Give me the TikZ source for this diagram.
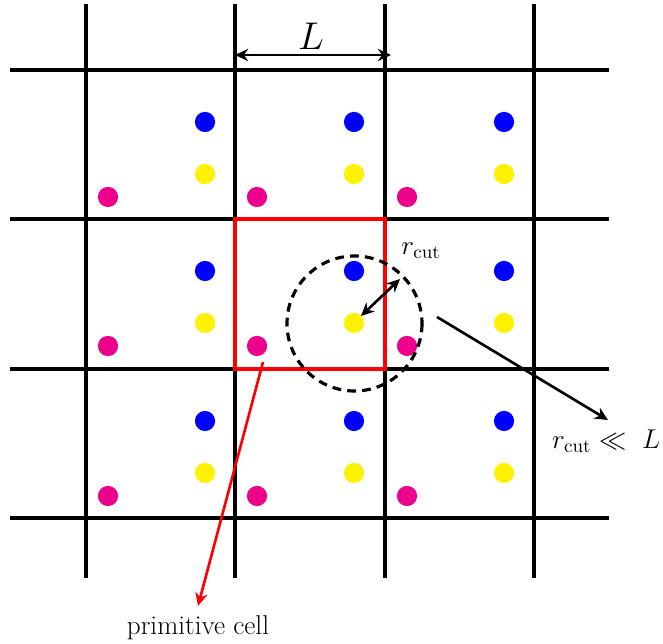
\documentclass[tikz,border=0pt]{standalone}
\usepackage{fix-cm}
\usetikzlibrary{arrows.meta}
\definecolor{dotblue}{RGB}{0,0,255}
\definecolor{dotyellow}{RGB}{255,242,0}
\definecolor{dotmagenta}{RGB}{236,0,140}
\tikzset{
  gridline/.style={line width=2pt, black},
  dot/.style={circle, inner sep=0pt, minimum size=11.5pt, fill=#1},
  arr/.style={line width=1.5pt, -{Stealth[length=7.5pt,width=7pt]}},
  darr/.style={line width=1.5pt, {Stealth[length=7.5pt,width=7pt]}-{Stealth[length=7.5pt,width=7pt]}},
  lbl/.style={inner sep=1pt, font=\fontsize{15.5}{18}\selectfont}
}
\begin{document}
\begin{tikzpicture}[x=0.02cm, y=-0.02cm]
\useasboundingbox (0,0) rectangle (663,644);
% grid
\foreach \x in {86,235,385,534} \draw[gridline] (\x,4) -- (\x,578);
\foreach \y in {70,219,369,518} \draw[gridline] (10,\y) -- (609,\y);
% dots
\foreach \i/\x in {0/86,1/235,2/385} {
  \foreach \j/\y in {0/70,1/219,2/369} {
    \node[dot=dotblue] (b\i\j) at (\x+119,\y+52) {};
    \node[dot=dotyellow] (y\i\j) at (\x+119,\y+104) {};
    \node[dot=dotmagenta] (m\i\j) at (\x+22,\y+127) {};
  }
}
% primitive cell
\draw[red, line width=2pt] (235,219) rectangle (385,369);
% cutoff circle
\draw[line width=1.8pt, dash pattern=on 5pt off 3.5pt] (354.5,323.5) circle[radius=67.5];
% L arrow
\coordinate (La) at (235,55);
\coordinate (Lb) at (391,55);
\draw[darr] (La) -- (Lb);
\node[font=\fontsize{22}{26}\selectfont] (L) at (311,36) {$L$};
% r_cut arrow
\coordinate (ra) at (361,316);
\coordinate (rb) at (400,279);
\draw[darr] (ra) -- (rb);
\node[lbl] (rcut) at (421,251) {$r_{\mathrm{cut}}$};
% r_cut << L
\coordinate (ca) at (437,317);
\coordinate (cb) at (608,420);
\draw[arr] (ca) -- (cb);
\node[lbl, anchor=west] (cond) at (550,441) {$r_{\mathrm{cut}} \ll\ L$};
% primitive cell arrow
\coordinate (pa) at (263,362);
\coordinate (pb) at (198,606);
\draw[arr, red] (pa) -- (pb);
\node[lbl] (prim) at (198,628) {primitive cell};
\end{tikzpicture}
\end{document}
